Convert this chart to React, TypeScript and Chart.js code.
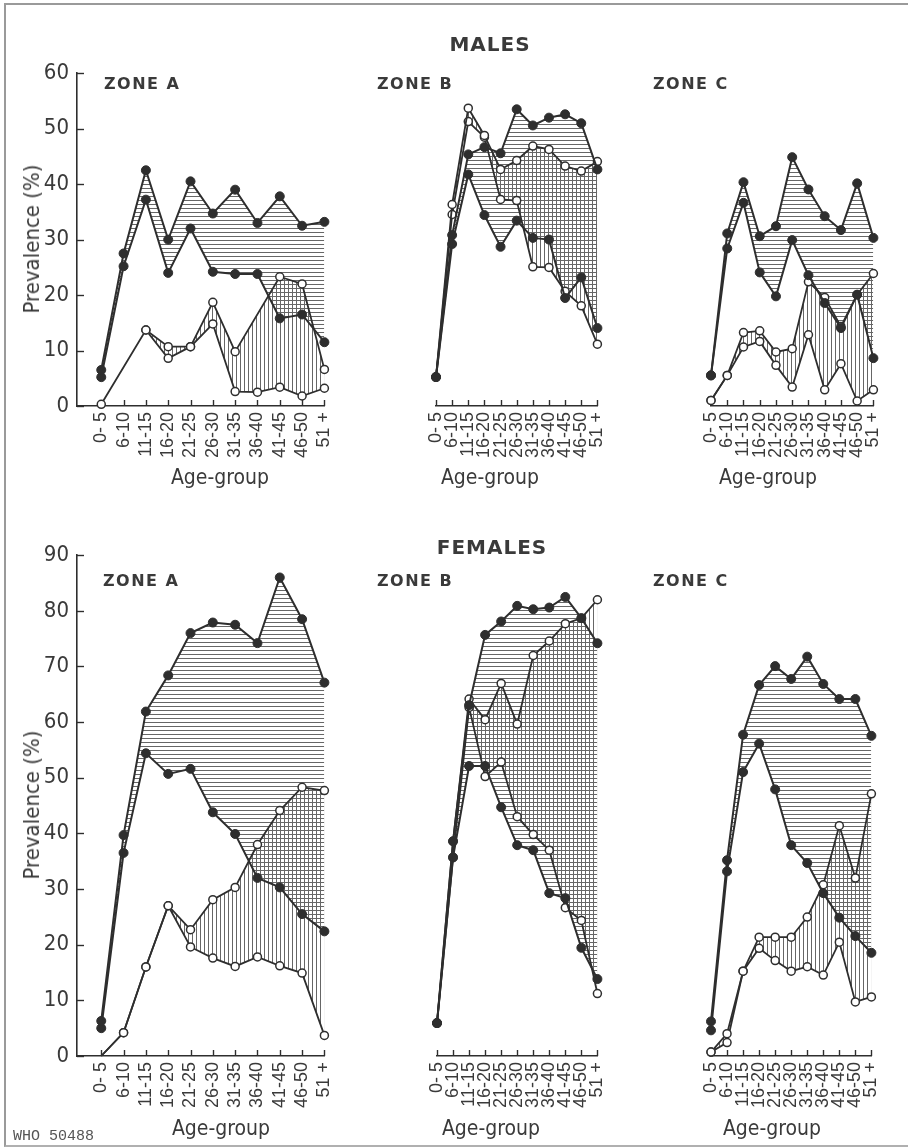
import React, { useEffect, useRef } from "react";
import { Chart, registerables } from "chart.js";

Chart.register(...registerables);

// ---------- data ----------
const CATEGORIES = ["0- 5", "6-10", "11-15", "16-20", "21-25", "26-30", "31-35", "36-40", "41-45", "46-50", "51 +"];

// MALES
const M_A_SOLID_HI = [6.5, 27.5, 42.5, 30.0, 40.5, 34.7, 39.0, 33.0, 37.8, 32.5, 33.2];
const M_A_SOLID_LO = [5.2, 25.2, 37.2, 24.0, 32.0, 24.2, 23.8, 23.8, 15.8, 16.5, 11.5];
const M_A_OPEN_HI = [null, null, 13.7, 10.7, 10.7, 18.7, 9.8, null, 23.3, 22.0, 6.6];
const M_A_OPEN_LO = [0.3, null, 13.7, 8.6, 10.7, 14.8, 2.6, 2.5, 3.4, 1.8, 3.2];

const M_B_SOLID_HI = [5.2, 30.7, 45.2, 46.5, 45.4, 53.3, 50.4, 51.8, 52.4, 50.8, 42.5];
const M_B_SOLID_LO = [5.2, 29.1, 41.6, 34.3, 28.6, 33.3, 30.2, 29.9, 19.4, 23.1, 14.0];
const M_B_OPEN_HI = [5.2, 36.2, 53.5, 48.6, 42.5, 44.1, 46.7, 46.1, 43.1, 42.2, 43.9];
const M_B_OPEN_LO = [5.2, 34.4, 51.1, 48.3, 37.1, 36.9, 25.0, 24.9, 20.6, 18.0, 11.1];

const M_C_SOLID_HI = [5.5, 31.0, 40.2, 30.5, 32.3, 44.7, 38.9, 34.1, 31.6, 40.0, 30.2];
const M_C_SOLID_LO = [5.5, 28.3, 36.5, 24.0, 19.7, 29.8, 23.5, 18.5, 14.0, 20.0, 8.6];
const M_C_OPEN_HI = [1.0, 5.5, 13.2, 13.5, 9.7, 10.3, 22.3, 19.5, 14.3, 20.0, 23.8];
const M_C_OPEN_LO = [1.0, 5.5, 10.6, 11.6, 7.3, 3.4, 12.8, 2.9, 7.6, 0.9, 2.9];

// FEMALES
const F_A_SOLID_HI = [6.3, 39.7, 61.9, 68.4, 76.0, 77.9, 77.5, 74.2, 86.0, 78.5, 67.1];
const F_A_SOLID_LO = [5.0, 36.5, 54.4, 50.7, 51.6, 43.8, 39.9, 32.0, 30.3, 25.5, 22.4];
const F_A_OPEN_HI = [0, 4.2, 16.0, 27.0, 22.7, 28.1, 30.3, 38.0, 44.1, 48.3, 47.7];
const F_A_OPEN_LO = [0, 4.2, 16.0, 27.0, 19.6, 17.6, 16.1, 17.8, 16.2, 14.9, 3.7];

const F_B_SOLID_HI = [5.9, 38.5, 62.9, 75.5, 77.9, 80.7, 80.1, 80.4, 82.3, 78.5, 74.0];
const F_B_SOLID_LO = [5.9, 35.6, 52.0, 52.0, 44.6, 37.8, 36.9, 29.2, 28.3, 19.4, 13.8];
const F_B_OPEN_HI = [5.9, 38.5, 64.0, 60.3, 66.8, 59.5, 71.8, 74.4, 77.5, 78.5, 81.8];
const F_B_OPEN_LO = [5.9, 35.6, 62.5, 50.1, 52.7, 42.9, 39.7, 36.9, 26.6, 24.3, 11.2];

const F_C_SOLID_HI = [6.2, 35.1, 57.6, 66.5, 69.9, 67.6, 71.6, 66.7, 64.0, 64.0, 57.4];
const F_C_SOLID_LO = [4.6, 33.1, 50.9, 56.0, 47.8, 37.8, 34.6, 29.2, 24.8, 21.5, 18.5];
const F_C_OPEN_HI = [0.7, 4.0, 15.2, 21.3, 21.3, 21.3, 24.9, 30.7, 41.3, 31.9, 47.0];
const F_C_OPEN_LO = [0.7, 2.4, 15.2, 19.3, 17.1, 15.2, 16.0, 14.5, 20.4, 9.7, 10.6];

const MALE_Y_MAX = 60;
const FEMALE_Y_MAX = 90;
const Y_STEP = 10;

// ---------- style / layout ----------
const INK = "#2e2e2e";
const HATCH = "#666666";
const XTICK_FONT = '"Liberation Sans", Arial, sans-serif';
const NUM_FONT = '"Liberation Sans Narrow", "DejaVu Sans Condensed", sans-serif';
const HEAD_FONT = '"DejaVu Sans", "Open Sans", sans-serif';

const PAD_T = 20;
const PAD_R = 20;
const PAD_B = 2;
const X_AXIS_H = 60;
const Y_AXIS_W = 60;

type Series = (number | null)[];
interface PanelDef {
  key: string;
  solidHi: Series;
  solidLo: Series;
  openHi: Series;
  openLo: Series;
  yMax: number;
  withYAxis: boolean;
  hideOpenStart?: boolean;
  area: { left: number; right: number; top: number; bottom: number };
  firstX: number;
}

const PANELS: PanelDef[] = [
  { key: "mA", solidHi: M_A_SOLID_HI, solidLo: M_A_SOLID_LO, openHi: M_A_OPEN_HI, openLo: M_A_OPEN_LO, yMax: MALE_Y_MAX, withYAxis: true, area: { left: 77, right: 332, top: 72, bottom: 406 }, firstX: 102 },
  { key: "mB", solidHi: M_B_SOLID_HI, solidLo: M_B_SOLID_LO, openHi: M_B_OPEN_HI, openLo: M_B_OPEN_LO, yMax: MALE_Y_MAX, withYAxis: false, area: { left: 376, right: 605, top: 72, bottom: 406 }, firstX: 376 },
  { key: "mC", solidHi: M_C_SOLID_HI, solidLo: M_C_SOLID_LO, openHi: M_C_OPEN_HI, openLo: M_C_OPEN_LO, yMax: MALE_Y_MAX, withYAxis: false, area: { left: 651, right: 881, top: 72, bottom: 406 }, firstX: 651 },
  { key: "fA", solidHi: F_A_SOLID_HI, solidLo: F_A_SOLID_LO, openHi: F_A_OPEN_HI, openLo: F_A_OPEN_LO, yMax: FEMALE_Y_MAX, withYAxis: true, hideOpenStart: true, area: { left: 77, right: 332, top: 554, bottom: 1056 }, firstX: 102 },
  { key: "fB", solidHi: F_B_SOLID_HI, solidLo: F_B_SOLID_LO, openHi: F_B_OPEN_HI, openLo: F_B_OPEN_LO, yMax: FEMALE_Y_MAX, withYAxis: false, area: { left: 377, right: 605, top: 554, bottom: 1056 }, firstX: 377 },
  { key: "fC", solidHi: F_C_SOLID_HI, solidLo: F_C_SOLID_LO, openHi: F_C_OPEN_HI, openLo: F_C_OPEN_LO, yMax: FEMALE_Y_MAX, withYAxis: false, area: { left: 651, right: 879, top: 554, bottom: 1056 }, firstX: 651 },
];

function geometry(def: PanelDef) {
  const { area } = def;
  const padL = def.withYAxis ? area.left - Y_AXIS_W : 20;
  const left = def.withYAxis ? 0 : area.left - 20;
  const top = area.top - PAD_T;
  const width = area.right + PAD_R - left;
  const height = PAD_T + (area.bottom - area.top) + X_AXIS_H + PAD_B;
  const n = CATEGORIES.length - 1;
  const spacing = (area.right - def.firstX) / n;
  const xMin = def.withYAxis ? -(def.firstX - area.left) / spacing : 0;
  return { padL, left, top, width, height, xMin, xMax: n };
}

function makeHatch(ctx: CanvasRenderingContext2D, dir: "h" | "v") {
  const c = document.createElement("canvas");
  c.width = 4;
  c.height = 4;
  const g = c.getContext("2d")!;
  g.fillStyle = HATCH;
  if (dir === "h") g.fillRect(0, 0, 4, 1);
  else g.fillRect(0, 0, 1, 4);
  return ctx.createPattern(c, "repeat")!;
}

const innerTicks = {
  id: "innerTicks",
  beforeDatasetsDraw(chart: any) {
    const { ctx } = chart;
    const xs = chart.scales.x;
    const ys = chart.scales.y;
    ctx.save();
    ctx.strokeStyle = INK;
    ctx.lineWidth = 1.4;
    xs.ticks.forEach((t: any) => {
      const px = Math.round(xs.getPixelForValue(t.value)) + 0.5;
      ctx.beginPath();
      ctx.moveTo(px, xs.top);
      ctx.lineTo(px, xs.top - 6);
      ctx.stroke();
    });
    if (ys.options.display) {
      ys.ticks.forEach((t: any) => {
        const py = Math.round(ys.getPixelForValue(t.value)) + 0.5;
        ctx.beginPath();
        ctx.moveTo(ys.right, py);
        ctx.lineTo(ys.right + 7, py);
        ctx.stroke();
      });
    }
    ctx.restore();
  },
};

function PanelChart({ def }: { def: PanelDef }) {
  const ref = useRef<HTMLCanvasElement>(null);
  const g = geometry(def);

  useEffect(() => {
    const canvas = ref.current!;
    const ctx = canvas.getContext("2d")!;
    const hPat = makeHatch(ctx, "h");
    const vPat = makeHatch(ctx, "v");
    const pts = (s: Series) =>
      s.map((y, x) => ({ x, y })).filter((p) => p.y !== null) as { x: number; y: number }[];

    const solid = (s: Series, fill: number | false) => ({
      data: pts(s),
      fill,
      backgroundColor: hPat,
      borderColor: INK,
      borderWidth: 2,
      pointRadius: 4.5,
      pointBackgroundColor: INK,
      pointBorderColor: INK,
      pointBorderWidth: 1,
      tension: 0,
      clip: false as const,
    });
    const open = (s: Series, fill: number | false) => {
      const p = pts(s);
      return {
        data: p,
        fill,
        backgroundColor: vPat,
        borderColor: INK,
        borderWidth: 1.8,
        pointRadius: p.map((q) => (def.hideOpenStart && q.x === 0 ? 0 : 4)),
        pointBackgroundColor: "#ffffff",
        pointBorderColor: INK,
        pointBorderWidth: 1.5,
        tension: 0,
        clip: false as const,
      };
    };

    const chart = new Chart(canvas, {
      type: "line",
      data: {
        datasets: [
          solid(def.solidHi, 1),
          solid(def.solidLo, false),
          open(def.openHi, 3),
          open(def.openLo, false),
        ] as any,
      },
      options: {
        responsive: false,
        maintainAspectRatio: false,
        animation: false,
        events: [],
        layout: { padding: { top: PAD_T, right: PAD_R, bottom: PAD_B, left: g.padL } },
        plugins: {
          legend: { display: false },
          tooltip: { enabled: false },
          title: { display: false },
          filler: { drawTime: "beforeDatasetsDraw" },
        } as any,
        scales: {
          x: {
            type: "linear",
            min: g.xMin,
            max: g.xMax,
            afterBuildTicks: (s: any) => {
              s.ticks = CATEGORIES.map((_, i) => ({ value: i }));
            },
            afterFit: (s: any) => {
              s.height = X_AXIS_H;
            },
            ticks: {
              autoSkip: false,
              minRotation: 90,
              maxRotation: 90,
              padding: 6,
              color: "#3a3a3a",
              font: { family: XTICK_FONT, size: 18 },
              callback: (v: any) => CATEGORIES[v as number] ?? "",
            },
            grid: { display: false, drawTicks: false },
            border: { display: true, color: INK, width: 1.6 },
          },
          y: {
            type: "linear",
            min: 0,
            max: def.yMax,
            display: def.withYAxis,
            afterFit: (s: any) => {
              s.width = Y_AXIS_W;
            },
            ticks: {
              stepSize: Y_STEP,
              padding: 8,
              color: "#3a3a3a",
              font: { family: NUM_FONT, size: 22 },
            },
            grid: { display: false, drawTicks: false },
            border: { display: true, color: INK, width: 1.6 },
          },
        } as any,
      },
      plugins: [innerTicks],
    });
    return () => chart.destroy();
  }, [def]);

  return (
    <canvas
      ref={ref}
      width={g.width}
      height={g.height}
      style={{ position: "absolute", left: g.left, top: g.top, width: g.width, height: g.height }}
    />
  );
}

function CText({ x, y, children, style, rotate, anchor }: any) {
  const tx = anchor === "left" ? "0" : "-50%";
  return (
    <div
      style={{
        position: "absolute",
        left: x,
        top: y,
        whiteSpace: "nowrap",
        lineHeight: 1,
        color: "#333",
        transform: `translate(${tx}, -50%)${rotate ? ` rotate(${rotate}deg)` : ""}`,
        ...style,
      }}
    >
      {children}
    </div>
  );
}

const HEAD_STYLE = { fontFamily: HEAD_FONT, fontWeight: 700, fontSize: 20, letterSpacing: 1, color: "#3a3a3a" };
const ZONE_STYLE = { fontFamily: HEAD_FONT, fontWeight: 700, fontSize: 16, letterSpacing: 1.5, color: "#3a3a3a" };
const AXIS_STYLE = { fontFamily: NUM_FONT, fontSize: 21, color: "#3a3a3a" };

export default function App() {
  return (
    <div style={{ position: "absolute", left: 0, top: 0, width: 914, height: 1147, background: "#fff", overflow: "hidden" }}>
      <div
        style={{
          position: "absolute",
          left: 4,
          top: 3,
          width: 902,
          height: 1140,
          borderLeft: "2px solid #9a9a9a",
          borderTop: "2px solid #9a9a9a",
          borderBottom: "2px solid #b0b0b0",
        }}
      />
      {PANELS.map((p) => (
        <PanelChart key={p.key} def={p} />
      ))}

      <CText x={490} y={44} style={HEAD_STYLE}>MALES</CText>
      <CText x={492} y={547} style={HEAD_STYLE}>FEMALES</CText>

      <CText x={104} y={84} anchor="left" style={ZONE_STYLE}>ZONE A</CText>
      <CText x={377} y={84} anchor="left" style={ZONE_STYLE}>ZONE B</CText>
      <CText x={653} y={84} anchor="left" style={ZONE_STYLE}>ZONE C</CText>
      <CText x={103} y={581} anchor="left" style={ZONE_STYLE}>ZONE A</CText>
      <CText x={377} y={581} anchor="left" style={ZONE_STYLE}>ZONE B</CText>
      <CText x={653} y={581} anchor="left" style={ZONE_STYLE}>ZONE C</CText>

      <CText x={32} y={239} rotate={-90} style={{ ...AXIS_STYLE, fontSize: 22 }}>Prevalence (%)</CText>
      <CText x={32} y={805} rotate={-90} style={{ ...AXIS_STYLE, fontSize: 22 }}>Prevalence (%)</CText>

      <CText x={220} y={477} style={AXIS_STYLE}>Age-group</CText>
      <CText x={490} y={477} style={AXIS_STYLE}>Age-group</CText>
      <CText x={768} y={477} style={AXIS_STYLE}>Age-group</CText>
      <CText x={221} y={1128} style={AXIS_STYLE}>Age-group</CText>
      <CText x={491} y={1128} style={AXIS_STYLE}>Age-group</CText>
      <CText x={772} y={1128} style={AXIS_STYLE}>Age-group</CText>

      <CText x={13} y={1136} anchor="left" style={{ fontFamily: '"Liberation Mono", "DejaVu Sans Mono", monospace', fontSize: 15, color: "#555" }}>
        WHO 50488
      </CText>
    </div>
  );
}
